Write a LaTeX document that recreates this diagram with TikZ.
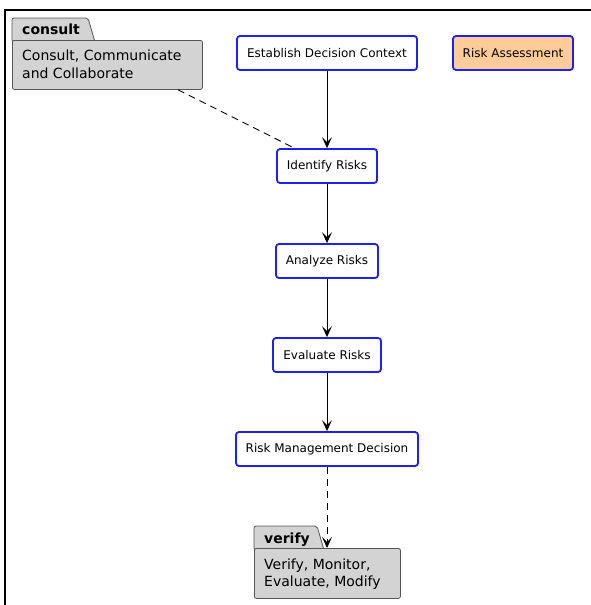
\documentclass[tikz,border=0pt]{standalone}
\usepackage{fontspec}
\setmainfont{DejaVu Sans}
\usetikzlibrary{arrows.meta,calc}
\definecolor{boxblue}{HTML}{1F1FF0}
\definecolor{peach}{HTML}{FFCC99}
\definecolor{pkgfill}{HTML}{D3D3D3}
\definecolor{pkgline}{HTML}{555555}
\tikzset{
  stepbox/.style={draw=boxblue, line width=1.8pt, rounded corners=3pt, fill=white,
    minimum height=34pt, inner sep=0pt, font=\fontsize{12}{14}\selectfont},
  pkgshape/.style={draw=pkgline, line width=0.8pt, fill=pkgfill, rounded corners=2pt},
  pkgtitle/.style={anchor=base west, inner sep=0pt, font=\fontsize{14}{16}\selectfont\bfseries},
  pkgtext/.style={anchor=base west, inner sep=0pt, font=\fontsize{14}{16}\selectfont},
  flow/.style={-{Stealth[length=11pt,width=10pt,inset=5pt]}, line width=0.9pt},
  dashlink/.style={line width=0.9pt, dash pattern=on 7pt off 5pt},
}
\begin{document}
\begin{tikzpicture}[x=1pt,y=-1pt]
\useasboundingbox (0,0) rectangle (590,605);
% outer frame
\draw[line width=2pt] (5,606) -- (5,10) -- (591,10);

% consult package
\draw[pkgshape] (12,42) |- (88,18) -- (95,42) -- cycle;
\node[pkgshape, anchor=north west, minimum width=190pt, minimum height=49pt, inner sep=0pt] (cbody) at (12,40) {};
\node[pkgtitle] (ctitle) at (22,34) {consult};
\node[pkgtext] (cline1) at (22,60) {Consult, Communicate};
\node[pkgtext] (cline2) at (22,78) {and Collaborate};

% verify package
\draw[pkgshape] (254,550) |- (317,526) -- (324,550) -- cycle;
\node[pkgshape, anchor=north west, minimum width=146pt, minimum height=50pt, inner sep=0pt] (vbody) at (254,548) {};
\node[pkgtitle] (vtitle) at (264,543) {verify};
\node[pkgtext] (vline1) at (264,569) {Verify, Monitor,};
\node[pkgtext] (vline2) at (264,586) {Evaluate, Modify};

% process steps
\node[stepbox, minimum width=180pt] (ctx) at (327,53) {Establish Decision Context};
\node[stepbox, minimum width=120pt, fill=peach] (ra) at (513,53) {Risk Assessment};
\node[stepbox, minimum width=100pt] (ident) at (327,166) {Identify Risks};
\node[stepbox, minimum width=102pt] (analyze) at (327,261) {Analyze Risks};
\node[stepbox, minimum width=108pt] (evaluate) at (327,355) {Evaluate Risks};
\node[stepbox, minimum width=182pt] (rmd) at (327,449) {Risk Management Decision};

% connectors
\draw[flow] (ctx) -- (ident);
\draw[flow] (ident) -- (analyze);
\draw[flow] (analyze) -- (evaluate);
\draw[flow] (evaluate) -- (rmd);
\draw[flow, dash pattern=on 7pt off 5pt] (rmd.south) -- (rmd.south |- vbody.north);
\draw[dashlink] ($(cbody.south west)!0.87!(cbody.south east)$) -- ($(ident.north west)!0.18!(ident.north east)$);
\end{tikzpicture}
\end{document}
